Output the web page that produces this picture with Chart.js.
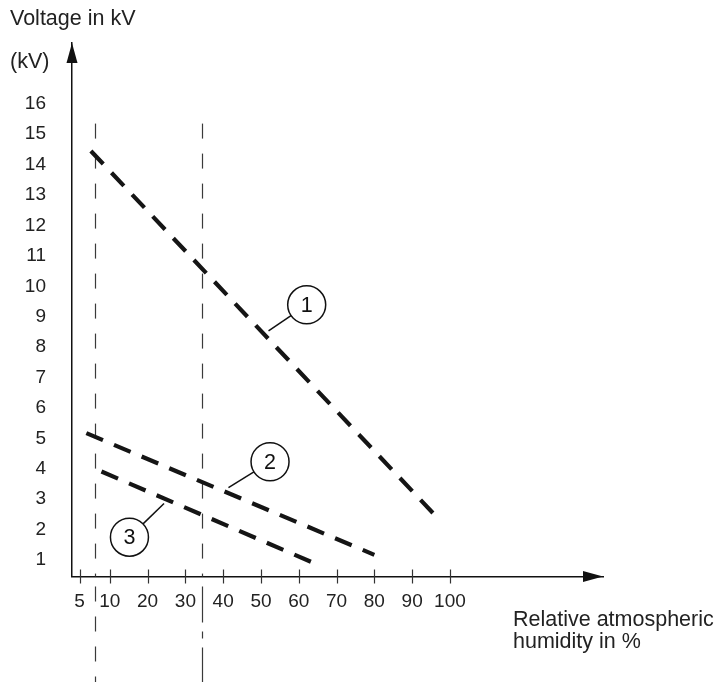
<!DOCTYPE html>
<html lang="en">
<head>
    <meta charset="UTF-8">
    <title>Voltage vs relative humidity</title>
    <script src="https://cdn.jsdelivr.net/npm/chart.js"></script>
    <style>
        html, body {
            margin: 0;
            padding: 0;
            background: #ffffff;
        }
        .chart-container {
            position: relative;
            width: 717px;
            height: 682px;
        }
    </style>
</head>
<body>
    <div class="chart-container">
        <canvas id="humidityChart"></canvas>
    </div>
    <script>
        // tick labels (the "5" label sits left of its true place in the original drawing)
        const xTickValues = [2, 10, 20, 30, 40, 50, 60, 70, 80, 90, 100];
        const xTickLabels = ['5', '10', '20', '30', '40', '50', '60', '70', '80', '90', '100'];
        const yTickValues = [1, 2, 3, 4, 5, 6, 7, 8, 9, 10, 11, 12, 13, 14, 15, 16];

        // curves: relative humidity (%) -> voltage (kV)
        const curve1Humidity = [5, 96];
        const curve1Voltage = [14.45, 2.48];
        const curve2Humidity = [3.8, 80];
        const curve2Voltage = [5.17, 1.17];
        const curve3Humidity = [7.8, 63.8];
        const curve3Voltage = [3.91, 0.91];

        // vertical marker lines
        const markerHumidity = [6, 34.3];
        const markerTopVoltage = 15.35;

        const FONT = '"Liberation Sans", Arial, Helvetica, sans-serif';
        const toPoints = (xs, ys) => xs.map((x, i) => ({ x: x, y: ys[i] }));

        // numbered callouts: circle centre and the point the leader goes to (data units)
        const callouts = [
            { text: '1', cx: 62.1, cy: 9.39, tx: 52.0, ty: 8.53 },
            { text: '2', cx: 52.4, cy: 4.23, tx: 41.4, ty: 3.38 },
            { text: '3', cx: 15.2, cy: 1.75, tx: 24.35, ty: 2.86 }
        ];

        const drawingPlugin = {
            id: 'drawing',
            beforeDatasetsDraw(chart) {
                const ctx = chart.ctx;
                const xs = chart.scales.x, ys = chart.scales.y;
                const axisY = chart.chartArea.bottom;
                const top = ys.getPixelForValue(markerTopVoltage);
                const belowDash = [[15, 15], [36, 9, 7, 9]];
                ctx.save();
                ctx.strokeStyle = '#3a3a3a';
                ctx.lineWidth = 1.2;
                markerHumidity.forEach((h, i) => {
                    const px = Math.round(xs.getPixelForValue(h)) + 0.5;
                    ctx.setLineDash([15, 15]);
                    ctx.beginPath();
                    ctx.moveTo(px, top);
                    ctx.lineTo(px, axisY);
                    ctx.stroke();
                    ctx.setLineDash(belowDash[i]);
                    ctx.beginPath();
                    ctx.moveTo(px, axisY + 10);
                    ctx.lineTo(px, chart.height);
                    ctx.stroke();
                });
                ctx.restore();
            },
            afterDraw(chart) {
                const ctx = chart.ctx;
                const xs = chart.scales.x, ys = chart.scales.y;
                const area = chart.chartArea;
                ctx.save();

                // x ticks crossing the axis
                ctx.strokeStyle = '#333';
                ctx.lineWidth = 1.2;
                xs.ticks.forEach(t => {
                    const px = Math.round(xs.getPixelForValue(t.value)) + 0.5;
                    ctx.beginPath();
                    ctx.moveTo(px, area.bottom - 7);
                    ctx.lineTo(px, area.bottom + 7);
                    ctx.stroke();
                });

                // arrow heads
                ctx.fillStyle = '#111';
                ctx.beginPath();
                ctx.moveTo(area.left, area.top);
                ctx.lineTo(area.left - 5.5, area.top + 20);
                ctx.lineTo(area.left + 5.5, area.top + 20);
                ctx.closePath();
                ctx.fill();
                ctx.beginPath();
                ctx.moveTo(area.right, area.bottom);
                ctx.lineTo(area.right - 20, area.bottom - 5.5);
                ctx.lineTo(area.right - 20, area.bottom + 5.5);
                ctx.closePath();
                ctx.fill();

                // callouts
                ctx.strokeStyle = '#111';
                ctx.lineWidth = 1.5;
                ctx.font = '21.5px ' + FONT;
                ctx.textAlign = 'center';
                ctx.textBaseline = 'middle';
                const r = 19;
                callouts.forEach(c => {
                    const cx = xs.getPixelForValue(c.cx), cy = ys.getPixelForValue(c.cy);
                    const tx = xs.getPixelForValue(c.tx), ty = ys.getPixelForValue(c.ty);
                    const d = Math.hypot(tx - cx, ty - cy);
                    ctx.beginPath();
                    ctx.arc(cx, cy, r, 0, Math.PI * 2);
                    ctx.stroke();
                    ctx.beginPath();
                    ctx.moveTo(cx + (tx - cx) * r / d, cy + (ty - cy) * r / d);
                    ctx.lineTo(tx, ty);
                    ctx.stroke();
                    ctx.fillText(c.text, cx, cy + 1);
                });

                // axis titles
                ctx.fillStyle = '#222';
                ctx.textAlign = 'left';
                ctx.textBaseline = 'alphabetic';
                ctx.fillText('Voltage in kV', 10, 25);
                ctx.fillText('(kV)', 10, 68);
                ctx.fillText('Relative atmospheric', 513, 626);
                ctx.fillText('humidity in %', 513, 648);
                ctx.restore();
            }
        };

        const lineStyle = {
            borderColor: '#151515',
            borderWidth: 4.2,
            borderDash: [18, 12],
            borderCapStyle: 'butt',
            pointRadius: 0,
            fill: false
        };

        new Chart(document.getElementById('humidityChart').getContext('2d'), {
            type: 'line',
            data: {
                datasets: [
                    Object.assign({ label: '1', data: toPoints(curve1Humidity, curve1Voltage) }, lineStyle),
                    Object.assign({ label: '2', data: toPoints(curve2Humidity, curve2Voltage) }, lineStyle),
                    Object.assign({ label: '3', data: toPoints(curve3Humidity, curve3Voltage) }, lineStyle)
                ]
            },
            options: {
                responsive: true,
                maintainAspectRatio: false,
                animation: false,
                layout: {
                    padding: { top: 43, right: 114, bottom: 0, left: 10 }
                },
                plugins: {
                    legend: { display: false },
                    tooltip: { enabled: false }
                },
                scales: {
                    x: {
                        type: 'linear',
                        min: 0,
                        max: 140.5,
                        grid: { display: false, drawTicks: false },
                        border: { display: true, color: '#111', width: 1.5 },
                        afterBuildTicks: (scale) => {
                            scale.ticks = xTickValues.map(v => ({ value: v }));
                        },
                        afterFit: (scale) => { scale.height = 105.5; },
                        ticks: {
                            autoSkip: false,
                            maxRotation: 0,
                            padding: 14,
                            color: '#222',
                            font: { family: FONT, size: 19 },
                            callback: (value, index) => xTickLabels[index]
                        }
                    },
                    y: {
                        type: 'linear',
                        min: 0.457,
                        max: 18,
                        grid: { display: false, drawTicks: false },
                        border: { display: true, color: '#111', width: 1.5 },
                        afterBuildTicks: (scale) => {
                            scale.ticks = yTickValues.map(v => ({ value: v }));
                        },
                        afterFit: (scale) => { scale.width = 62; },
                        ticks: {
                            autoSkip: false,
                            padding: 26,
                            color: '#222',
                            font: { family: FONT, size: 19 },
                            callback: (value) => String(value)
                        }
                    }
                }
            },
            plugins: [drawingPlugin]
        });
    </script>
</body>
</html>
